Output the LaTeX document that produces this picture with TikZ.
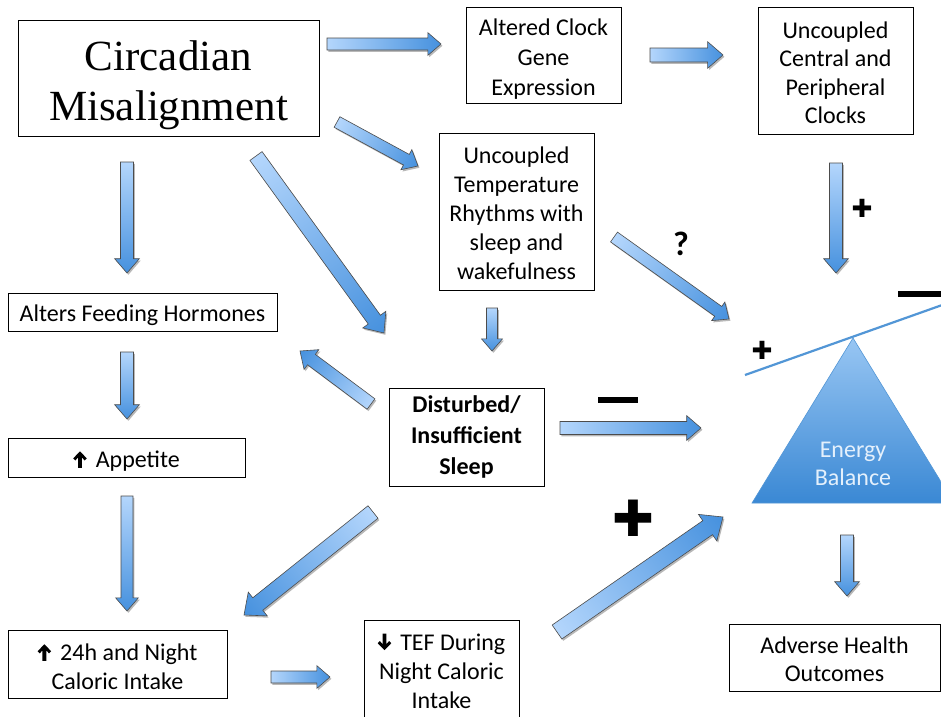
\documentclass[tikz,border=0pt]{standalone}
\usepackage{fontspec}
\setmainfont{Carlito}
\newfontfamily\titlefont{Liberation Serif}
\newfontfamily\symfont{DejaVu Sans}
\usetikzlibrary{calc}
\definecolor{arrowlight}{RGB}{180,214,252}
\definecolor{arrowdark}{RGB}{70,145,222}
\definecolor{trilight}{RGB}{152,198,243}
\definecolor{tridark}{RGB}{58,136,212}
\definecolor{leverblue}{RGB}{82,150,214}
\definecolor{energytext}{RGB}{228,240,252}
\newdimen\bax \newdimen\bay \newdimen\bbx \newdimen\bby
\newcommand\barrow[3][6]{%
 \pgfextractx{\bax}{\pgfpointanchor{#2}{center}}%
 \pgfextracty{\bay}{\pgfpointanchor{#2}{center}}%
 \pgfextractx{\bbx}{\pgfpointanchor{#3}{center}}%
 \pgfextracty{\bby}{\pgfpointanchor{#3}{center}}%
 \pgfmathsetmacro\bang{atan2(\bby-\bay,\bbx-\bax)}%
 \pgfmathsetmacro\blen{veclen(\bbx-\bax,\bby-\bay)}%
 \pgfmathsetmacro\bw{#1}%
 \pgfmathsetmacro\bH{1.9*#1}%
 \pgfmathsetmacro\bk{\blen-2.2*#1}%
 \begin{scope}[transform canvas={shift={({\bax+1.4pt},{\bay-1.8pt})},rotate=\bang}]
  \fill[black,opacity=.28] (0pt,-\bw pt) -- (\bk pt,-\bw pt) -- (\bk pt,-\bH pt) -- (\blen pt,0pt) -- (\bk pt,\bH pt) -- (\bk pt,\bw pt) -- (0pt,\bw pt) -- cycle;
 \end{scope}
 \begin{scope}[transform canvas={shift={(\bax,\bay)},rotate=\bang}]
  \shade[left color=arrowlight,right color=arrowdark] (0pt,-\bw pt) -- (\bk pt,-\bw pt) -- (\bk pt,-\bH pt) -- (\blen pt,0pt) -- (\bk pt,\bH pt) -- (\bk pt,\bw pt) -- (0pt,\bw pt) -- cycle;
  \draw[black!70,line width=0.6pt,line join=miter] (0pt,-\bw pt) -- (\bk pt,-\bw pt) -- (\bk pt,-\bH pt) -- (\blen pt,0pt) -- (\bk pt,\bH pt) -- (\bk pt,\bw pt) -- (0pt,\bw pt) -- cycle;
 \end{scope}
}
\tikzset{
 box/.style={draw=black, line width=0.8pt, inner sep=0pt, fill=white},
 txt/.style={align=center, inner sep=0pt, font=\fontsize{24}{29}\selectfont},
 sym/.style={font=\symfont\fontsize{#1}{#1}\selectfont, inner sep=0pt},
}
\newcommand\uparr{\tikz[x=1pt,y=1pt,baseline=0pt]{\fill[black] (-1.9,0) -- (1.9,0) -- (1.9,10.5) -- (4.6,7.4) -- (6.8,9.5) -- (0,16.5) -- (-6.8,9.5) -- (-4.6,7.4) -- (-1.9,10.5) -- cycle;}\hspace{9pt}}
\newcommand\downarr{\tikz[x=1pt,y=1pt,baseline=0pt]{\fill[black] (-1.9,16.5) -- (1.9,16.5) -- (1.9,6) -- (4.6,9.1) -- (6.8,7) -- (0,0) -- (-6.8,7) -- (-4.6,9.1) -- (-1.9,6) -- cycle;}\hspace{9pt}}
\begin{document}
\begin{tikzpicture}[x=1pt,y=-1pt]
\useasboundingbox (0,0) rectangle (941,716);
\clip (0,0) rectangle (941,716);
\fill[white] (0,0) rectangle (941,716);

% boxes
\node[box, minimum width=301pt, minimum height=116pt] (circ) at (168.5,78) {};
\node[txt, font=\titlefont\fontsize{43}{50}\selectfont] (circT) at ([yshift=-7pt]circ.center) {Circadian\\Misalignment};
\node[box, minimum width=155pt, minimum height=96pt] (clock) at (543.5,55) {};
\node[txt, font=\fontsize{24}{30}\selectfont] (clockT) at ([yshift=-4pt]clock.center) {Altered Clock\\Gene\\Expression};
\node[box, minimum width=155pt, minimum height=127pt] (central) at (835.5,70.5) {};
\node[txt, font=\fontsize{24}{28.5}\selectfont] (centralT) at ([yshift=-2pt]central.center) {Uncoupled\\Central and\\Peripheral\\Clocks};
\node[box, minimum width=155pt, minimum height=157pt] (temp) at (516.5,211.5) {};
\node[txt] (tempT) at ([yshift=-2pt]temp.center) {Uncoupled\\Temperature\\Rhythms with\\sleep and\\wakefulness};
\node[box, minimum width=269pt, minimum height=38pt] (feed) at (142.5,312) {};
\node[txt] (feedT) at ([yshift=-3pt]feed.center) {Alters Feeding Hormones};
\node[box, minimum width=237pt, minimum height=39pt] (app) at (126.5,457.5) {};
\node[txt] (appT) at ([yshift=-4pt]app.center) {\uparr Appetite};
\node[box, minimum width=219pt, minimum height=68pt] (intake) at (117.5,664) {};
\node[txt] (intakeT) at ([yshift=-3pt]intake.center) {\uparr 24h and Night\\Caloric Intake};
\node[box, minimum width=155pt, minimum height=98pt] (sleep) at (466.5,437) {};
\node[txt, font=\bfseries\fontsize{24}{31}\selectfont] (sleepT) at (sleep.center) {Disturbed/\\Insufficient\\Sleep};
\node[box, minimum width=155pt, minimum height=102pt] (tef) at (441.5,671) {};
\node[txt] (tefT) at (tef.center) {\downarr TEF During\\Night Caloric\\Intake};
\node[box, minimum width=211pt, minimum height=67pt] (adverse) at (834.5,657.5) {};
\node[txt, font=\fontsize{24}{28}\selectfont] (adverseT) at ([yshift=-2pt]adverse.center) {Adverse Health\\Outcomes};

% energy balance seesaw
\coordinate (apex) at (853,338);
\coordinate (bl) at (752,503);
\coordinate (br) at (954,503);
\shade[top color=trilight, bottom color=tridark] (apex) -- (br) -- (bl) -- cycle;
\draw[leverblue, line width=0.6pt] (apex) -- (br) -- (bl) -- cycle;
\coordinate (levl) at (745,375);
\coordinate (levr) at (945,304);
\draw[leverblue, line width=2.2pt] (levl) -- (levr);
\node[txt, text=energytext, font=\fontsize{24}{28}\selectfont] (energy) at (853,464) {Energy\\Balance};

% signs
\node[sym=25] (plusA) at (862,208) {✚};
\node[sym=25] (plusB) at (762,350) {✚};
\node[sym=50] (plusC) at (633,518) {✚};
\node[font=\bfseries\fontsize{34}{34}\selectfont, inner sep=0pt] (q) at (681,244) {?};
\fill (898,291) rectangle (941,297);
\fill (598,397) rectangle (638,403);

% arrow end points
\coordinate (a1s) at (327,44);  \coordinate (a1e) at (441,44);
\coordinate (a2s) at (650,55);  \coordinate (a2e) at (723,55);
\coordinate (a3s) at (337,122); \coordinate (a3e) at (418,166);
\coordinate (a4s) at (256,156); \coordinate (a4e) at (384,333);
\coordinate (a5s) at (127,162); \coordinate (a5e) at (127,273);
\coordinate (a6s) at (492,308); \coordinate (a6e) at (492,351);
\coordinate (a7s) at (836,163); \coordinate (a7e) at (836,273);
\coordinate (a8s) at (614,237); \coordinate (a8e) at (729,319);
\coordinate (a9s) at (371,404); \coordinate (a9e) at (300,351);
\coordinate (a10s) at (560,428); \coordinate (a10e) at (701,428);
\coordinate (a11s) at (127,352); \coordinate (a11e) at (127,419);
\coordinate (a12s) at (127,496); \coordinate (a12e) at (127,611);
\coordinate (a13s) at (373,512); \coordinate (a13e) at (244,615);
\coordinate (a14s) at (271,677); \coordinate (a14e) at (330,677);
\coordinate (a15s) at (557,632); \coordinate (a15e) at (723,517);
\coordinate (a16s) at (847,535); \coordinate (a16e) at (847,596);

\barrow[6]{a1s}{a1e}
\barrow[7]{a2s}{a2e}
\barrow[6]{a3s}{a3e}
\barrow[7.5]{a4s}{a4e}
\barrow[6.5]{a5s}{a5e}
\barrow[5.5]{a6s}{a6e}
\barrow[6.5]{a7s}{a7e}
\barrow[6]{a8s}{a8e}
\barrow[6.5]{a9s}{a9e}
\barrow[6.5]{a10s}{a10e}
\barrow[6.5]{a11s}{a11e}
\barrow[6]{a12s}{a12e}
\barrow[8]{a13s}{a13e}
\barrow[6]{a14s}{a14e}
\barrow[8.5]{a15s}{a15e}
\barrow[6.5]{a16s}{a16e}
\end{tikzpicture}
\end{document}
